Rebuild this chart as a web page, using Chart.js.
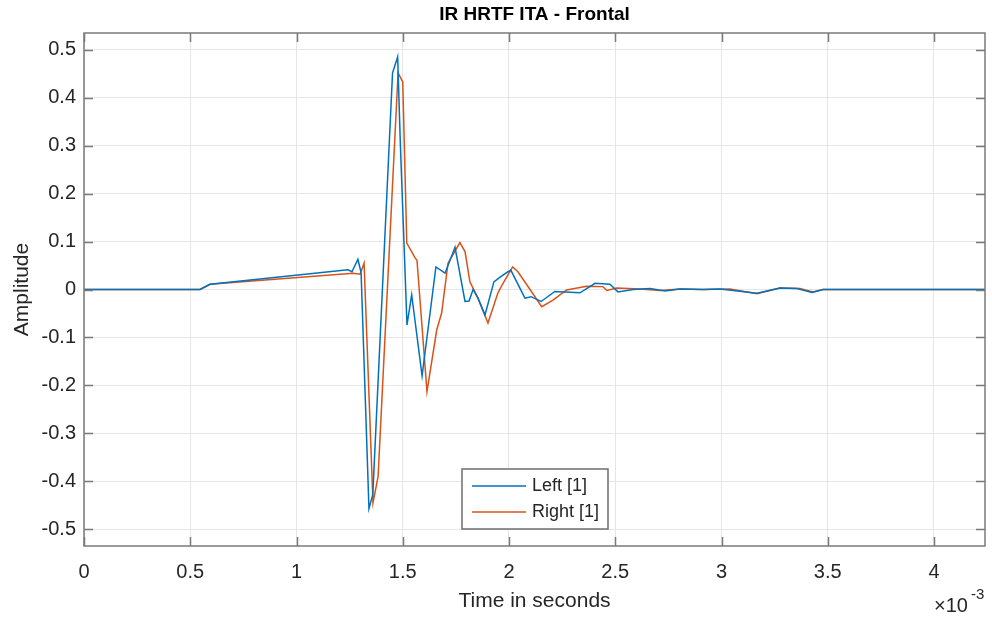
<!DOCTYPE html>
<html>
  <head>
    <title>IR HRTF ITA - Frontal</title>
    <style>
      body {
        margin: 0;
        background: #fff;
        font-family: 'Liberation Sans', Arial, sans-serif;
      }

      #wrap {
        width: 992px;
        height: 620px;
      }
    </style>
  </head>
  <body>
    <div id="wrap">
      <canvas id="chart" width="992" height="620"></canvas>
    </div>
    <script src="https://cdn.jsdelivr.net/npm/chart.js@4.4.0/dist/chart.umd.min.js"></script>
    <script>
      // time axis in units of 1e-3 s (the axis shows "x10^-3")
      const leftTime = [0, 0.546, 0.593, 1.242, 1.261, 1.289, 1.304, 1.341, 1.359, 1.452, 1.476, 1.489,
        1.520, 1.542, 1.591, 1.656, 1.699, 1.746, 1.793, 1.812, 1.831, 1.854, 1.887, 1.929, 1.958,
        1.995, 2.009, 2.075, 2.104, 2.151, 2.216, 2.334, 2.405, 2.475, 2.513, 2.584, 2.664, 2.734,
        2.805, 2.913, 2.993, 3.167, 3.275, 3.355, 3.426, 3.478, 4.24];
      const leftAmp = [0, 0, 0.011, 0.041, 0.037, 0.063, 0.035, -0.457, -0.428, 0.452, 0.485, 0.30,
        -0.074, -0.011, -0.180, 0.047, 0.034, 0.088, -0.025, -0.024, 0, -0.018, -0.053, 0.016, 0.026,
        0.037, 0.040, -0.018, -0.015, -0.025, -0.004, -0.007, 0.013, 0.011, -0.005, 0, 0.002, -0.003,
        0.001, 0, 0.001, -0.008, 0.003, 0.002, -0.006, 0, 0];

      const rightTime = [0, 0.546, 0.593, 1.266, 1.299, 1.318, 1.360, 1.384, 1.478, 1.500, 1.519,
        1.558, 1.567, 1.614, 1.660, 1.683, 1.713, 1.769, 1.793, 1.816, 1.854, 1.901, 1.948, 1.972,
        2.017, 2.042, 2.099, 2.154, 2.207, 2.271, 2.365, 2.442, 2.461, 2.508, 2.616, 2.711, 2.805,
        2.913, 3.040, 3.167, 3.275, 3.369, 3.431, 3.478, 4.24];
      const rightAmp = [0, 0, 0.011, 0.034, 0.032, 0.055, -0.445, -0.39, 0.452, 0.433, 0.097,
        0.066, 0.061, -0.213, -0.084, -0.049, 0.055, 0.098, 0.079, 0.016, -0.018, -0.070, -0.007, 0.013,
        0.047, 0.037, 0, -0.036, -0.022, -0.001, 0.007, 0.006, -0.002, 0.003, 0.001, -0.002, 0.001,
        0, 0.001, -0.009, 0.003, 0.002, -0.005, 0, 0];

      const xTicks = [0, 0.5, 1, 1.5, 2, 2.5, 3, 3.5, 4];
      const yTicks = [-0.5, -0.4, -0.3, -0.2, -0.1, 0, 0.1, 0.2, 0.3, 0.4, 0.5];
      const seriesNames = ['Left [1]', 'Right [1]'];
      const seriesColors = ['#0072BD', '#D95319'];

      const toPoints = (xs, ys) => xs.map((x, i) => ({ x: x, y: ys[i] }));

      const FONT = "'Liberation Sans', Arial, sans-serif";
      const AXIS_COLOR = '#7a7a7a';
      const TEXT_COLOR = '#262626';

      // MATLAB-like frame: box, inward ticks, legend, title, labels
      const matlabFrame = {
        id: 'matlabFrame',
        afterDraw(chart) {
          const ctx = chart.ctx;
          const a = chart.chartArea;
          const xs = chart.scales.x;
          const ys = chart.scales.y;
          ctx.save();

          // box
          ctx.strokeStyle = AXIS_COLOR;
          ctx.lineWidth = 1.5;
          ctx.strokeRect(a.left, a.top, a.right - a.left, a.bottom - a.top);

          // inward ticks
          const tl = 9;
          ctx.beginPath();
          xTicks.forEach(v => {
            const px = Math.round(xs.getPixelForValue(v)) + 0.5;
            ctx.moveTo(px, a.bottom); ctx.lineTo(px, a.bottom - tl);
            ctx.moveTo(px, a.top); ctx.lineTo(px, a.top + tl);
          });
          yTicks.forEach(v => {
            const py = Math.round(ys.getPixelForValue(v)) + 0.5;
            ctx.moveTo(a.left, py); ctx.lineTo(a.left + tl, py);
            ctx.moveTo(a.right, py); ctx.lineTo(a.right - tl, py);
          });
          ctx.stroke();

          // legend
          const lx = 462, ly = 469, lw = 146, lh = 60;
          ctx.fillStyle = '#fff';
          ctx.fillRect(lx, ly, lw, lh);
          ctx.strokeStyle = '#6e6e6e';
          ctx.lineWidth = 1.5;
          ctx.strokeRect(lx, ly, lw, lh);
          ctx.font = '18px ' + FONT;
          ctx.textBaseline = 'middle';
          ctx.textAlign = 'left';
          chart.data.datasets.forEach((ds, i) => {
            const yy = ly + 17 + i * 26;
            ctx.strokeStyle = ds.borderColor;
            ctx.lineWidth = 1.5;
            ctx.beginPath();
            ctx.moveTo(lx + 10, yy);
            ctx.lineTo(lx + 64, yy);
            ctx.stroke();
            ctx.fillStyle = TEXT_COLOR;
            ctx.fillText(ds.label, lx + 70, yy);
          });

          // title
          const cx = (a.left + a.right) / 2;
          ctx.fillStyle = '#000';
          ctx.font = 'bold 19px ' + FONT;
          ctx.textAlign = 'center';
          ctx.fillText('IR HRTF ITA - Frontal', cx, 15);

          // axis labels
          ctx.fillStyle = TEXT_COLOR;
          ctx.font = '21px ' + FONT;
          ctx.fillText('Time in seconds', cx, 601);
          ctx.save();
          ctx.translate(22, (a.top + a.bottom) / 2);
          ctx.rotate(-Math.PI / 2);
          ctx.fillText('Amplitude', 0, 0);
          ctx.restore();

          // exponent
          ctx.textAlign = 'left';
          ctx.font = '20px ' + FONT;
          ctx.fillText('\u00d710', 934, 606);
          ctx.font = '15px ' + FONT;
          ctx.fillText('-3', 971, 595);

          ctx.restore();
        }
      };

      const ctx = document.getElementById('chart').getContext('2d');
      const chart = new Chart(ctx, {
        type: 'line',
        data: {
          datasets: [{
            label: seriesNames[0],
            data: toPoints(leftTime, leftAmp),
            borderColor: seriesColors[0],
            backgroundColor: seriesColors[0],
            borderWidth: 1.5,
            pointRadius: 0,
            tension: 0
          },
          {
            label: seriesNames[1],
            data: toPoints(rightTime, rightAmp),
            borderColor: seriesColors[1],
            backgroundColor: seriesColors[1],
            borderWidth: 1.5,
            pointRadius: 0,
            tension: 0
          }]
        },
        options: {
          responsive: false,
          animation: false,
          layout: { padding: { top: 33, right: 7, left: 0, bottom: 0 } },
          plugins: {
            legend: { display: false },
            tooltip: { enabled: false }
          },
          scales: {
            x: {
              type: 'linear',
              min: 0,
              max: 4.24,
              border: { display: false },
              grid: { color: '#e6e6e6', lineWidth: 1, drawTicks: false },
              afterBuildTicks: scale => { scale.ticks = xTicks.map(v => ({ value: v })); },
              afterFit: scale => { scale.height = 74; },
              ticks: {
                padding: 14,
                color: TEXT_COLOR,
                font: { family: FONT, size: 20 },
                maxRotation: 0,
                autoSkip: false,
                callback: v => String(v)
              }
            },
            y: {
              type: 'linear',
              min: -0.535,
              max: 0.535,
              border: { display: false },
              grid: { color: '#e6e6e6', lineWidth: 1, drawTicks: false },
              afterBuildTicks: scale => { scale.ticks = yTicks.map(v => ({ value: v })); },
              afterFit: scale => { scale.width = 84; },
              ticks: {
                padding: 8,
                color: TEXT_COLOR,
                font: { family: FONT, size: 20 },
                autoSkip: false,
                callback: v => (Math.abs(v) < 1e-9 ? '0' : v.toFixed(1))
              }
            }
          }
        },
        plugins: [matlabFrame]
      });
    </script>
  </body>
</html>
